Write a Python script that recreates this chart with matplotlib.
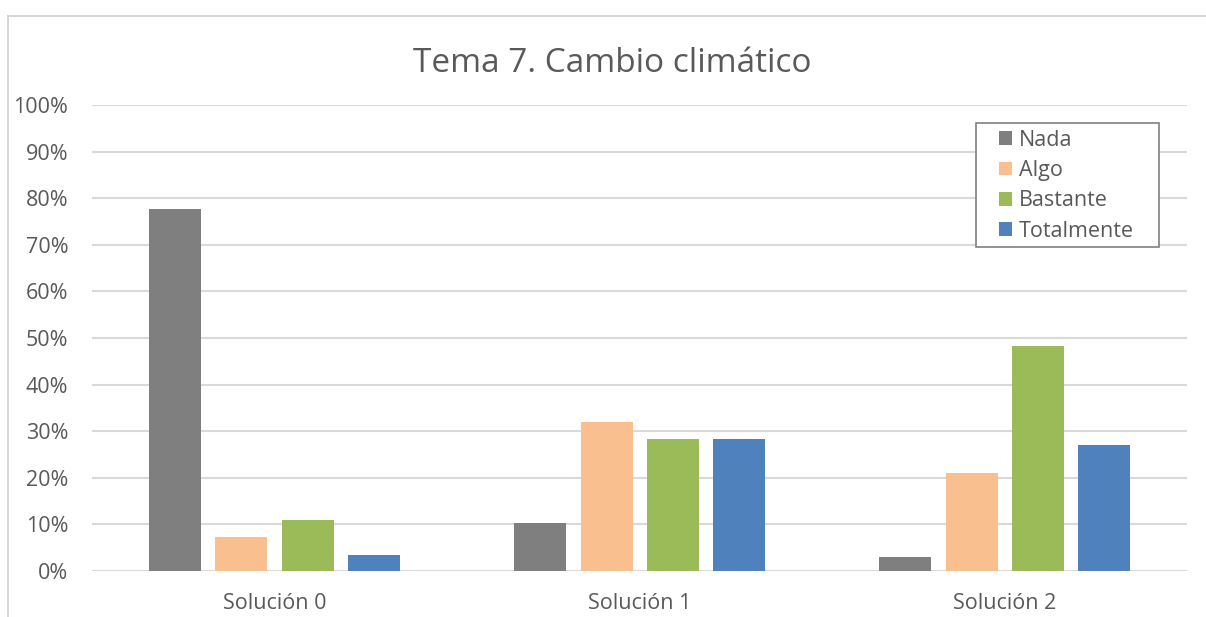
import matplotlib.pyplot as plt
import numpy as np
from matplotlib.lines import Line2D
from matplotlib.patches import Rectangle

# Data (percent)
categories = ["Solución 0", "Solución 1", "Solución 2"]
series = ["Nada", "Algo", "Bastante", "Totalmente"]
nada = [77.6, 10.4, 2.9]
algo = [7.2, 31.9, 21.0]
bastante = [10.9, 28.3, 48.3]
totalmente = [3.5, 28.3, 27.1]
yticks = [0, 10, 20, 30, 40, 50, 60, 70, 80, 90, 100]

colors = ["#7f7f7f", "#f9bf8f", "#9bbb59", "#4f81bd"]
values = [nada, algo, bastante, totalmente]

plt.rcParams['font.family'] = ['Open Sans', 'DejaVu Sans']
txt = "#595959"

fig = plt.figure(figsize=(12.06, 6.17), dpi=100)
ax = fig.add_axes([0.0763, 0.0746, 0.908, 0.7553])

x = np.arange(len(categories))
w = 0.1425
step = 0.181
for i, (name, vals) in enumerate(zip(series, values)):
    ax.bar(x + (i - 1.5) * step, vals, width=w, color=colors[i], label=name,
           zorder=3)

ax.set_xlim(-0.5, 2.5)
ax.set_ylim(0, 100)
ax.set_yticks(yticks)
ax.set_yticklabels([f"{t}%" for t in yticks])
ax.set_xticks(x)
ax.set_xticklabels(categories)
ax.tick_params(axis='both', length=0, labelsize=15.5, colors=txt)
ax.tick_params(axis='y', pad=17)
ax.tick_params(axis='x', pad=16)
ax.grid(axis='y', color="#d9d9d9", linewidth=1.5, zorder=0)
for s in ax.spines.values():
    s.set_visible(False)

fig.text(0.508, 1 - 63 / 617, "Tema 7. Cambio climático", ha='center',
         va='center', fontsize=24, color=txt)

# legend without its own frame; the box is drawn separately (Excel-like padding)
leg = ax.legend(loc='upper left', bbox_to_anchor=(0.8283, 0.9466),
                frameon=False, fontsize=15.5, handlelength=0.6,
                handleheight=0.6, handletextpad=0.33, labelspacing=0.43,
                borderpad=0, borderaxespad=0, labelcolor=txt)
leg.set_zorder(6)
ax.add_patch(Rectangle((0.8073, 0.6953), 0.9744 - 0.8073, 0.9614 - 0.6953,
                       transform=ax.transAxes, facecolor="white",
                       edgecolor="#808080", linewidth=1.2, zorder=5,
                       clip_on=False))

# outer chart border (left and top edges visible in crop)
fig.add_artist(Line2D([8 / 1206, 8 / 1206], [0, 1 - 16 / 617],
                      transform=fig.transFigure, color="#d0d0d0", lw=1.2))
fig.add_artist(Line2D([8 / 1206, 1], [1 - 16 / 617, 1 - 16 / 617],
                      transform=fig.transFigure, color="#d0d0d0", lw=1.2))

fig.savefig("out.png", dpi=100)
